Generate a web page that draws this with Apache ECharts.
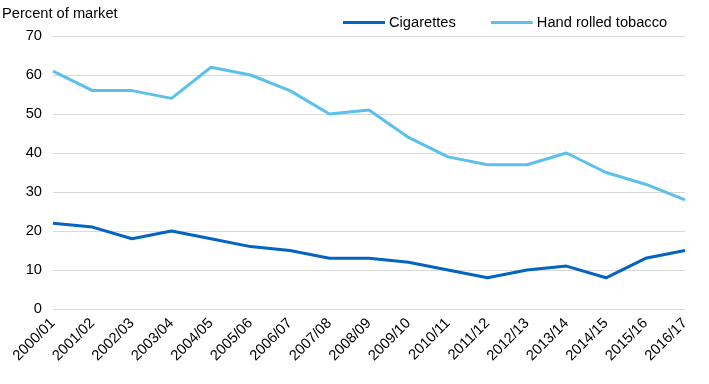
<!DOCTYPE html>
<html><head><meta charset="utf-8">
<script src="https://cdn.jsdelivr.net/npm/echarts@6/dist/echarts.min.js"></script>
<style>html,body{margin:0;padding:0;background:#fff}#c{width:709px;height:384px}</style>
</head><body><div id="c"></div>
<script>
var categories = ["2000/01","2001/02","2002/03","2003/04","2004/05","2005/06","2006/07","2007/08","2008/09","2009/10","2010/11","2011/12","2012/13","2013/14","2014/15","2015/16","2016/17"];
var cigarettes = [22,21,18,20,18,16,15,13,13,12,10,8,10,11,8,13,15];
var handRolled = [61,56,56,54,62,60,56,50,51,44,39,37,37,40,35,32,28];
var yTicks = [0,10,20,30,40,50,60,70];

var chart = echarts.init(document.getElementById('c'));
var font = "'Liberation Sans', Arial, sans-serif";
var fs = 14.67;
chart.setOption({
  animation:false,
  textStyle:{fontFamily:font},
  grid:{left:53,right:24,top:36,bottom:75,containLabel:false,outerBoundsMode:'none'},
  legend:{
    top:10,left:338,itemWidth:42,itemHeight:3,itemGap:35,
    icon:'rect',
    textStyle:{fontSize:fs,color:'#000',fontFamily:font,padding:[0,0,0,-1]},
    data:['Cigarettes','Hand rolled tobacco']
  },
  xAxis:{
    type:'category',data:categories,boundaryGap:false,
    axisLine:{show:false},axisTick:{show:false},
    axisLabel:{rotate:45,fontSize:fs,color:'#000',margin:12,interval:0}
  },
  yAxis:{
    type:'value',min:yTicks[0],max:yTicks[yTicks.length-1],interval:10,
    name:'Percent of market',nameLocation:'end',
    nameTextStyle:{fontSize:fs,color:'#000',align:'left',padding:[0,0,3,-51]},
    nameGap:12,
    axisLine:{show:false},axisTick:{show:false},
    axisLabel:{fontSize:fs,color:'#000',margin:11},
    splitLine:{lineStyle:{color:'#d9d9d9',width:1}}
  },
  series:[
    {name:'Cigarettes',type:'line',data:cigarettes,symbol:'none',lineStyle:{color:'#0563c1',width:3},itemStyle:{color:'#0563c1'}},
    {name:'Hand rolled tobacco',type:'line',data:handRolled,symbol:'none',lineStyle:{color:'#5bc0eb',width:3},itemStyle:{color:'#5bc0eb'}}
  ]
});
</script></body></html>
